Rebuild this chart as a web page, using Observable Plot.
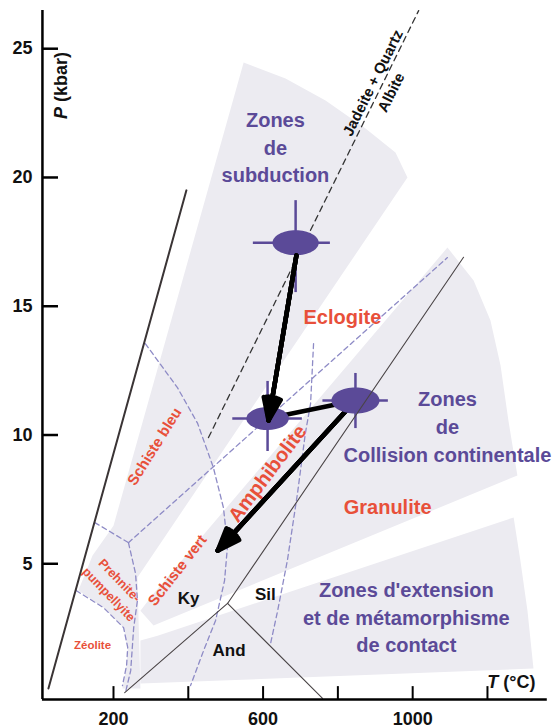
<!DOCTYPE html>
<html><head><meta charset="utf-8">
<script src="https://cdn.jsdelivr.net/npm/d3@7"></script>
<script src="https://cdn.jsdelivr.net/npm/@observablehq/plot@0.6"></script>
<style>body{margin:0;background:#fff}</style>
</head><body><div id="chart"></div>
<script>
// ---- Data (T in °C, P in kbar) ----
const tempTicks = [200, 400, 600, 800, 1000, 1200];
const tempLabels = [200, 600, 1000];
const presTicks = [5, 10, 15, 20, 25];

// geodynamic zones (shaded wedges)
const subductionZone = [[548,24.46],[660,23.84],[767,22.99],[874,21.90],[954,20.97],[986,20.00],[264,4.47],[272,0.16],[224,0.16],[235,1.05],[238,1.75],[227,2.52],[173,3.30],[106,3.96],[144,5.32],[200,6.48]];
const collisionZone = [[1093,17.28],[1163,16.00],[1208,14.45],[1235,12.70],[1256,10.56],[1280,8.43],[307,2.60],[272,3.18],[307,3.84]];
const extensionZone = [[318,2.21],[1270,6.80],[1288,5.13],[1307,3.18],[1323,0.93],[272,0.35],[272,2.02]];

// facies boundaries (dashed)
const zeoliteLimit = [[100,3.96],[173,3.30],[227,2.52],[238,1.75],[235,1.05],[224,0.27]];
const prehniteLimit = [[240,5.82],[259,4.62],[264,3.57],[254,2.52],[246,0.85],[232,0]];
const blueschistLow = [[150,6.60],[240,5.82]];
const eclogiteLimit = [[240,5.82],[1093,16.89]];
const blueschistLimit = [[285,13.55],[371,11.84],[425,10.45],[467,8.74],[494,7.18],[505,5.71],[497,4.35],[473,2.80],[441,1.63],[406,0.27]];
const granuliteLimit = [[735,13.55],[727,11.22],[713,10.06],[692,7.73],[665,5.13],[639,3.18],[620,1.90]];

// reactions
const jadeiteAlbite = [[454,9.9],[1016,26.48]];
const geothermLimit = [[26,0.16],[395,19.5]];
const kySil = [[505,3.46],[1136,16.9]];
const kyAnd = [[505,3.46],[230,0]];
const andSil = [[505,3.46],[759,-0.23]];

// P-T stages of the path
const stageT = [687, 612, 847];
const stageP = [17.47, 10.64, 11.34];
const stageTmin = [574, 519, 760];
const stageTmax = [780, 705, 935];
const stagePmin = [15.53, 9.36, 10.25];
const stagePmax = [19.10, 12.08, 12.39];
const stageSize = [12.5, 11.5, 13];

// path segments
const arrowT1 = [689, 847];
const arrowP1 = [16.97, 11.34];
const arrowT2 = [614.5, 478.6];
const arrowP2 = [10.56, 5.51];

// labels
const zoneText = ["Zones\nde\nsubduction", "Zones\nde\nCollision continentale", "Zones d'extension\net de métamorphisme\nde contact"];
const zoneT = [633, 1093, 983];
const zoneP = [21.24, 10.37, 2.99];

const bigFaciesText = ["Eclogite", "Granulite", "Amphibolite"];
const bigFaciesT = [812, 933, 612];
const bigFaciesP = [14.56, 7.18, 8.50];
const bigFaciesRot = [0, 0, -53];

const smallFaciesText = ["Schiste bleu", "Schiste vert", "Prehnite-", "pumpellyite"];
const smallFaciesT = [310, 371, 216, 187];
const smallFaciesP = [9.55, 4.74, 4.35, 3.81];
const smallFaciesRot = [-58, -52, 46, 46];

const mineralText = ["Ky", "Sil", "And"];
const mineralT = [401, 606, 509];
const mineralP = [3.65, 3.81, 1.63];

const reactionText = ["Jadeite + Quartz", "Albite"];
const reactionT = [894, 943];
const reactionP = [23.67, 23.30];

// ---- styles ----
const FONT = "Liberation Sans, Arial, Helvetica, sans-serif";
const GRAY = "#ecebf1";
const PURPLE = "#5b4a98";
const RED = "#e8503a";
const BLUE = "#8e8bc6";

const ellipse = {
  draw(ctx, size) {
    const ry = Math.sqrt(size / Math.PI), rx = ry * 1.85, k = 0.5523;
    ctx.moveTo(rx, 0);
    ctx.bezierCurveTo(rx, k*ry, k*rx, ry, 0, ry);
    ctx.bezierCurveTo(-k*rx, ry, -rx, k*ry, -rx, 0);
    ctx.bezierCurveTo(-rx, -k*ry, -k*rx, -ry, 0, -ry);
    ctx.bezierCurveTo(k*rx, -ry, rx, -k*ry, rx, 0);
    ctx.closePath();
  }
};

const zones = [
  ...subductionZone.map(d => ({zone: "sub", T: d[0], P: d[1]})),
  ...collisionZone.map(d => ({zone: "col", T: d[0], P: d[1]})),
  ...extensionZone.map(d => ({zone: "ext", T: d[0], P: d[1]}))
];
const faciesLines = [zeoliteLimit, prehniteLimit, blueschistLow, eclogiteLimit, blueschistLimit, granuliteLimit]
  .flatMap((l, i) => l.map(d => ({id: i, T: d[0], P: d[1]})));
const solidLines = [kySil, kyAnd, andSil].flatMap((l, i) => l.map(d => ({id: i, T: d[0], P: d[1]})));

const idx = [0, 1, 2];
const Pmin = -0.27, Ptop = 26.48, Tleft = 10, Tright = 1360;

// thick arrows with filled-looking heads (several overlapping wings)
function pathArrows(which) {
  return [42, 30, 18, 6].map(a => Plot.arrow(which, {
    x1: i => arrowT1[i], y1: i => arrowP1[i], x2: i => arrowT2[i], y2: i => arrowP2[i],
    stroke: "#000", strokeWidth: 4.5, headAngle: a, headLength: 8, strokeLinejoin: "miter"
  }));
}

const chart = Plot.plot({
  width: 559, height: 728,
  marginLeft: 38.2, marginRight: 12.2, marginTop: 7, marginBottom: 29,
  x: {domain: [0, 1360], axis: null},
  y: {domain: [-0.27, 26.6], axis: null},
  r: {type: "identity"},
  style: {fontFamily: FONT, background: "#fff", overflow: "visible"},
  marks: [
    Plot.line(zones, {x: "T", y: "P", z: "zone", fill: GRAY, stroke: "none"}),
    Plot.line(faciesLines, {x: "T", y: "P", z: "id", stroke: BLUE, strokeWidth: 1.3, strokeDasharray: "5,3.5"}),
    Plot.line(jadeiteAlbite, {x: d => d[0], y: d => d[1], stroke: "#333", strokeWidth: 1.3, strokeDasharray: "6,4.5"}),
    Plot.line(geothermLimit, {x: d => d[0], y: d => d[1], stroke: "#3a3435", strokeWidth: 2}),
    // labels
    Plot.text(zoneText, {x: (d,i) => zoneT[i], y: (d,i) => zoneP[i], text: d => d, fill: PURPLE, fontSize: 20, fontWeight: "bold", lineHeight: 1.4}),
    Plot.text(bigFaciesText, {x: (d,i) => bigFaciesT[i], y: (d,i) => bigFaciesP[i], rotate: (d,i) => bigFaciesRot[i], text: d => d, fill: RED, fontSize: 20, fontWeight: "bold"}),
    Plot.text(smallFaciesText, {x: (d,i) => smallFaciesT[i], y: (d,i) => smallFaciesP[i], rotate: (d,i) => smallFaciesRot[i], text: d => d, fill: RED, fontSize: (d,i) => i < 2 ? 15 : 12.5, fontWeight: "bold"}),
    Plot.text(["Zéolite"], {x: 144, y: 1.83, text: d => d, fill: RED, fontSize: 11.5, fontWeight: "bold"}),
    Plot.text(mineralText, {x: (d,i) => mineralT[i], y: (d,i) => mineralP[i], text: d => d, fill: "#111", fontSize: 17, fontWeight: "bold"}),
    Plot.text(reactionText, {x: (d,i) => reactionT[i], y: (d,i) => reactionP[i], text: d => d, rotate: -63.5, fill: "#111", fontSize: 15, fontWeight: "bold"}),
    // path lines under ellipses
    Plot.link([0], {x1: stageT[1], y1: stageP[1], x2: stageT[2], y2: stageP[2], stroke: "#000", strokeWidth: 4.5}),
    ...pathArrows([1]),
    // error crosses and ellipses
    Plot.ruleX(idx, {x: i => stageT[i], y1: i => stagePmin[i], y2: i => stagePmax[i], stroke: PURPLE, strokeWidth: 2.5}),
    Plot.ruleY(idx, {y: i => stageP[i], x1: i => stageTmin[i], x2: i => stageTmax[i], stroke: PURPLE, strokeWidth: 2.5}),
    Plot.dot(idx, {x: i => stageT[i], y: i => stageP[i], r: i => stageSize[i], symbol: ellipse, fill: PURPLE, stroke: "none"}),
    // Al2SiO5 lines on top
    Plot.line(solidLines, {x: "T", y: "P", z: "id", stroke: "#4a4446", strokeWidth: 1.1}),
    ...pathArrows([0]),
    // axes
    Plot.ruleX([Tleft], {y1: Pmin, y2: Ptop, stroke: "#000", strokeWidth: 2.5}),
    Plot.ruleY([Pmin], {x1: Tleft, x2: Tright, stroke: "#000", strokeWidth: 2.5}),
    Plot.ruleY(presTicks, {y: d => d, x1: Tleft, x2: 53, stroke: "#000", strokeWidth: 2.5}),
    Plot.ruleX(tempTicks, {x: d => d, y1: Pmin, y2: 0.23, stroke: "#000", strokeWidth: 2}),
    Plot.text(presTicks, {x: Tleft, y: d => d, text: d => String(d), dx: -10, textAnchor: "end", fontSize: 18, fontWeight: "bold", fill: "#111"}),
    Plot.text(tempLabels, {x: d => d, y: Pmin, text: d => String(d), dy: 20, fontSize: 18, fontWeight: "bold", fill: "#111"}),
    Plot.text(["P (kbar)"], {x: 61, y: 23.57, text: d => d, rotate: -90, fontSize: 18, fontWeight: "bold", fill: "#111"}),
    Plot.text(["T (°C)"], {x: 1264, y: 0.39, text: d => d, fontSize: 18, fontWeight: "bold", fill: "#111"})
  ]
});

// italic variable letters
d3.select(chart).selectAll("text").each(function() {
  const t = this.textContent;
  if (t === "P (kbar)") this.innerHTML = '<tspan font-style="italic">P</tspan> (kbar)';
  if (t === "T (°C)") this.innerHTML = '<tspan font-style="italic">T</tspan> (°C)';
});
document.getElementById("chart").appendChild(chart);
</script>
</body></html>
